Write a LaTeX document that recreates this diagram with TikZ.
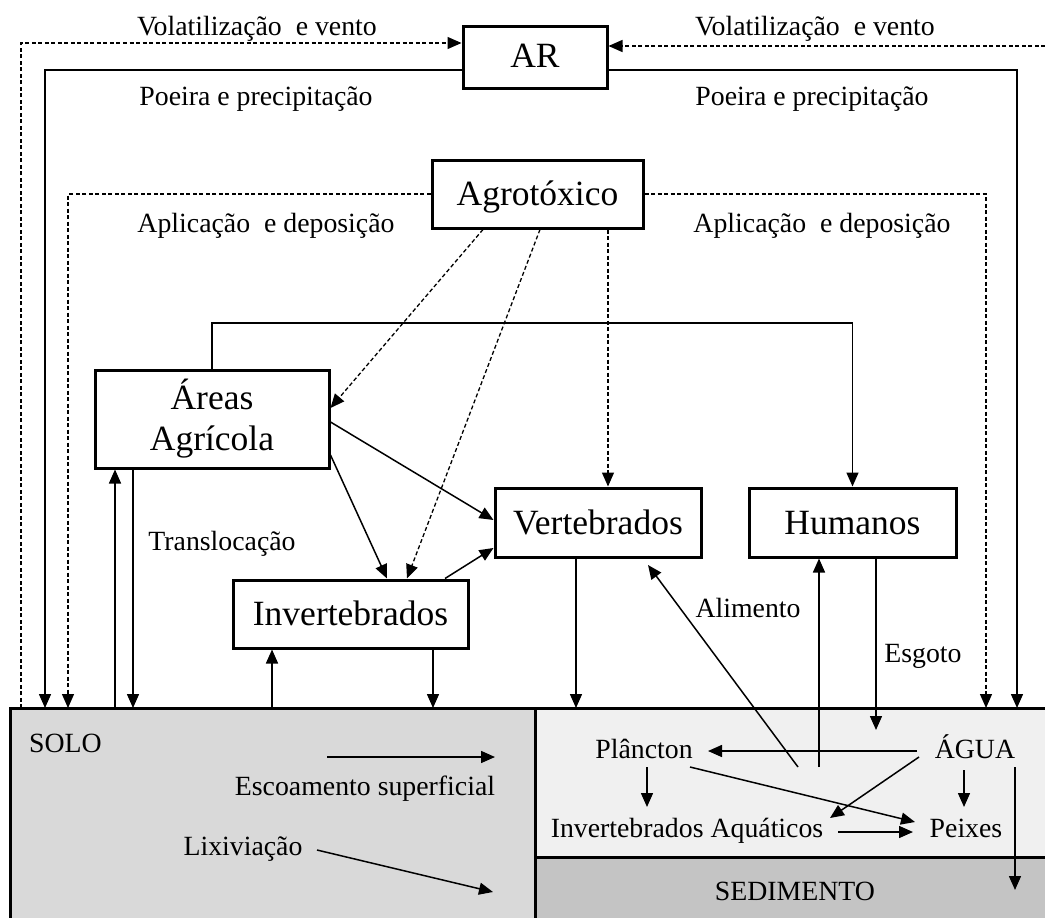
\documentclass[tikz,border=0pt]{standalone}
\usepackage{fontspec}
\setmainfont{Liberation Serif}
\usetikzlibrary{arrows.meta,calc}
\newcommand\fsm{\fontsize{27.8}{31}\selectfont}
\newcommand\fbg{\fontsize{35.5}{41}\selectfont}
\definecolor{soilc}{HTML}{D9D9D9}
\definecolor{waterc}{HTML}{F0F0F0}
\definecolor{sedc}{HTML}{C4C4C4}
\begin{document}
\begin{tikzpicture}[x=1pt,y=-1pt,
  box/.style={draw, line width=3pt, fill=white, inner sep=0pt, font=\fbg},
  lbl/.style={inner sep=0pt, font=\fsm, anchor=base},
  region/.style={inner sep=0pt, anchor=north west},
  conn/.style={line width=1.5pt},
  arr/.style={conn, -{Triangle[length=14pt,width=12pt]}},
  dsh/.style={line width=1.3pt, dash pattern=on 4pt off 2.5pt},
  darr/.style={dsh, -{Triangle[length=14pt,width=12pt]}},
]
\useasboundingbox (0,0) rectangle (1045,918);

% regions
\node[region, fill=soilc, minimum width=1035pt, minimum height=210pt] (solo) at (10,708) {};
\node[region, fill=waterc, minimum width=510pt, minimum height=149pt] (water) at (535,708) {};
\node[region, fill=sedc, minimum width=510pt, minimum height=61pt] (sed) at (535,857) {};
\draw[line width=3pt] (solo.south west) -- (solo.north west) -- (solo.north east);
\draw[line width=3pt] (water.north west) -- (sed.south west);
\draw[line width=3pt] (sed.north west) -- (sed.north east);

% boxes
\node[box, minimum width=144pt, minimum height=62pt, text height=24pt, text depth=4pt] (ar) at (535,57) {AR};
\node[box, minimum width=211pt, minimum height=68pt, text height=30pt, text depth=7pt] (agro) at (537.5,194) {Agrotóxico};
\node[box, minimum width=234pt, minimum height=98pt, align=center] (areas) at (212,419) {Áreas\\Agrícola};
\node[box, minimum width=206pt, minimum height=69pt, text height=30pt, text depth=7pt] (vert) at (598,522.5) {Vertebrados};
\node[box, minimum width=207pt, minimum height=69pt, text height=30pt, text depth=7pt] (hum) at (852.5,522.5) {Humanos};
\node[box, minimum width=235pt, minimum height=68pt, text height=30pt, text depth=7pt] (inv) at (350.5,614) {Invertebrados};

% labels
\node[lbl] (volL) at (257,35) {Volatilização\ \ e vento};
\node[lbl] (volR) at (815,35) {Volatilização\ \ e vento};
\node[lbl] (poeL) at (256,105) {Poeira e precipitação};
\node[lbl] (poeR) at (812,105) {Poeira e precipitação};
\node[lbl] (aplL) at (266,232) {Aplicação\ \ e deposição};
\node[lbl] (aplR) at (822,232) {Aplicação\ \ e deposição};
\node[lbl] (trans) at (222,550) {Translocação};
\node[lbl] (alim) at (748,617) {Alimento};
\node[lbl] (esg) at (923,662) {Esgoto};
\node[lbl, anchor=base west] (sololbl) at (29,752) {SOLO};
\node[lbl] (esc) at (365,795) {Escoamento superficial};
\node[lbl] (lix) at (243,855) {Lixiviação};
\node[lbl] (planc) at (644,758) {Plâncton};
\node[lbl] (agua) at (975,758) {ÁGUA};
\node[lbl] (invaq) at (687,837) {Invertebrados Aquáticos};
\node[lbl] (peixes) at (966,837) {Peixes};
\node[lbl] (sedlbl) at (795,900) {SEDIMENTO};

% free ends
\coordinate (vr) at (1045,46);
\coordinate (esgEnd) at (876,730);
\coordinate (humOrig) at (819,767);
\coordinate (alimOrig) at (798,767);
\coordinate (alimEnd) at (648,565);

% air connectors
\draw[darr] (21,0 |- solo.north) |- (ar.west |- 0,43);
\draw[arr] (ar.west |- 0,70) -| (45,0 |- solo.north);
\draw[darr] (vr) -- (ar.east |- vr);
\draw[arr] (ar.east |- 0,70) -| (1017,0 |- water.north);

% agrotoxico connectors
\draw[darr] (agro.west) -| (68,0 |- solo.north);
\draw[darr] (agro.east) -| (986,0 |- water.north);
\draw[darr] (483,0 |- agro.south) -- (areas.east |- 0,408);
\draw[darr] (540,0 |- agro.south) -- (407,0 |- inv.north);
\draw[darr] (608,0 |- agro.south) -- (608,0 |- vert.north);

% areas / organisms
\draw[arr] (areas.north) |- (hum.north |- 0,323) -- (hum.north);
\draw[arr] (areas.east |- 0,422) -- (vert.west |- 0,520);
\draw[arr] (areas.east |- 0,455) -- (387,0 |- inv.north);
\draw[arr] (445,0 |- inv.north) -- (vert.west |- 0,548);
\draw[arr] (115,0 |- solo.north) -- (115,0 |- areas.south);
\draw[arr] (133,0 |- areas.south) -- (133,0 |- solo.north);
\draw[arr] (272,0 |- solo.north) -- (272,0 |- inv.south);
\draw[arr] (433,0 |- inv.south) -- (433,0 |- solo.north);
\draw[arr] (576,0 |- vert.south) -- (576,0 |- water.north);
\draw[arr] (876,0 |- hum.south) -- (esgEnd);
\draw[arr] (humOrig) -- (819,0 |- hum.south);
\draw[arr] (alimOrig) -- (alimEnd);

% soil
\draw[arr] ($(esc.base)+(-38,-38)$) -- ($(esc.base)+(130,-38)$);
\draw[arr] ($(lix.base)+(74,-5)$) -- ($(lix.base)+(250,37)$);

% water
\draw[arr] ($(agua.base)+(-58,-7)$) -- ($(planc.base)+(64,-7)$);
\draw[arr] ($(agua.base)+(-56,-1)$) -- ($(invaq.base)+(143,-19)$);
\draw[arr] ($(planc.base)+(46,9)$) -- ($(peixes.base)+(-51,-15)$);
\draw[arr] ($(invaq.base)+(151,-5)$) -- ($(peixes.base)+(-53,-5)$);
\draw[arr] ($(planc.base)+(3,9)$) -- ($(invaq.base)+(-40,-30)$);
\draw[arr] ($(agua.base)+(-11,12)$) -- ($(peixes.base)+(-2,-30)$);
\draw[arr] ($(agua.base)+(40,9)$) -- ($(sedlbl.base)+(220,-10)$);
\end{tikzpicture}
\end{document}
